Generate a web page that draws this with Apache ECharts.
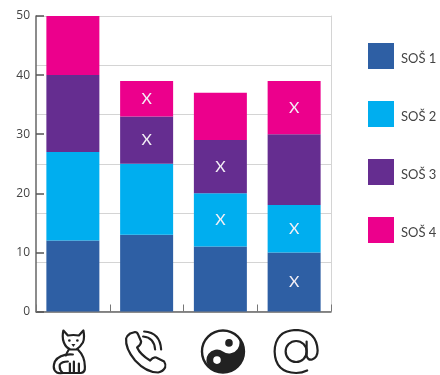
<!DOCTYPE html>
<html>
<head>
<meta charset="utf-8">
<style>html,body{margin:0;padding:0;background:#fff}#c{width:440px;height:375px}</style>
<script src="https://cdn.jsdelivr.net/npm/echarts@6/dist/echarts.min.js"></script>
</head>
<body>
<div id="c"></div>
<script>
var categories = ['cat', 'phone', 'yinyang', 'at'];
var seriesNames = ['SOŠ 1', 'SOŠ 2', 'SOŠ 3', 'SOŠ 4'];
var sos1 = [12, 13, 11, 10];
var sos2 = [15, 12, 9, 8];
var sos3 = [13, 8, 9, 12];
var sos4 = [10, 6, 8, 9];
var marks1 = [0, 0, 0, 1];
var marks2 = [0, 0, 1, 1];
var marks3 = [0, 1, 1, 0];
var marks4 = [0, 1, 0, 1];
var colors = ['#2e5fa4', '#00aeef', '#652d90', '#ec008c'];

function svg(inner, dx) {
  return 'data:image/svg+xml;utf8,' + encodeURIComponent(
    '<svg xmlns="http://www.w3.org/2000/svg" width="54" height="46" viewBox="-4 0 54 46"><g transform="translate(' + dx + ' 0)">' + inner + '</g></svg>');
}
var stroke = 'fill="none" stroke="#222" stroke-width="2.2" stroke-linecap="round" stroke-linejoin="round"';
var icons = {
  cat: svg('<g ' + stroke + '>' +
    '<path d="M13.5 2 L18 7 Q23.5 6 29 7 L33.5 2 Q35 10 33 14 Q30 19 26.5 21 L20.5 21 Q16 19 14 14 Q12 9 13.5 2Z"/>' +
    '<path d="M19 21 Q17 24 16 27 M28 21 Q35 28 35 38 Q35.5 44 31 44.5 L12 44.5"/>' +
    '<path d="M23 26 Q10 25 5 33 Q2 41 7 44 Q10 45.5 13 44.5 Q9 41 10 36 Q12 33 18 33"/>' +
    '<path d="M20 35 V44 M24 33 V44 M29 35 V44"/></g>' +
    '<circle cx="19.5" cy="12" r="1.3" fill="#222"/><circle cx="27.5" cy="12" r="1.3" fill="#222"/>' +
    '<path d="M21.5 15.5 L25.5 15.5 L23.5 18.5Z" fill="#222"/>', 0),
  phone: svg('<g ' + stroke + '>' +
    '<path d="M8 5 L13 3.5 Q15 3.5 16 6 L19 13 Q19 16 15 19 Q18 26 28 32 Q31 28 34 29 L42 33 Q44 36 43 39 Q41 43 36 44 Q24 44 13 32 Q3 20 4 10 Q5 7 8 5Z"/>' +
    '<path d="M21 8 Q32 9 33 21"/><path d="M22 3 Q38 4 39 21"/></g>', -1.5),
  yinyang: svg('<circle cx="23" cy="23" r="21" fill="#fff" stroke="#222" stroke-width="2.4"/>' +
    '<path d="M23 2 A21 21 0 0 1 23 44 A10.5 10.5 0 0 1 23 23 A10.5 10.5 0 0 0 23 2Z" fill="#222" transform="rotate(35 23 23)"/>' +
    '<circle cx="29" cy="14.4" r="3.8" fill="#222"/><circle cx="17" cy="31.6" r="3.8" fill="#fff"/>', 2.6),
  at: svg('<g fill="none" stroke="#222" stroke-width="2.2" stroke-linecap="round">' +
    '<circle cx="23" cy="23" r="10.5"/>' +
    '<path d="M33.5 13 V27 Q34.5 32 39 31 Q44.5 29 44.5 22 Q43.5 2 23 1.5 Q2 2 1.5 23 Q2 44 23 44.5 Q29 44.5 34 42"/></g>', 2)
};

var rich = {};
categories.forEach(function (c) {
  rich[c] = { width: 54, height: 46, backgroundColor: { image: icons[c] } };
});

function build(values, marks) {
  return values.map(function (v, i) {
    return { value: v, label: { show: !!marks[i] } };
  });
}
var allValues = [sos1, sos2, sos3, sos4];
var allMarks = [marks1, marks2, marks3, marks4];

var chart = echarts.init(document.getElementById('c'), null, { renderer: 'canvas' });
chart.setOption({
  animation: false,
  color: colors,
  textStyle: { fontFamily: 'Open Sans' },
  grid: { left: 36, right: 109, top: 16, bottom: 63.5 },
  legend: {
    orient: 'vertical', left: 368, top: 43, padding: 0,
    itemWidth: 26, itemHeight: 26, itemGap: 32,
    icon: 'rect',
    data: seriesNames,
    selectedMode: false,
    formatter: '{t|{name}}',
    textStyle: {
      rich: { t: { fontFamily: 'Lato', fontSize: 13, color: '#444', padding: [5, 0, 0, 2] } }
    }
  },
  xAxis: {
    type: 'category',
    data: categories,
    axisLine: { lineStyle: { color: '#666', width: 1.5 } },
    axisTick: { show: true, inside: true, length: 7, alignWithLabel: false, lineStyle: { color: '#777', width: 1 } },
    axisLabel: {
      margin: 17, interval: 0,
      formatter: function (v) { return '{' + v + '|}'; },
      rich: rich
    }
  },
  yAxis: [{
    type: 'value', min: 0, max: 50, interval: 10,
    axisLine: { show: true, lineStyle: { color: '#666', width: 1.5 } },
    axisTick: { show: true, inside: true, length: 8, lineStyle: { color: '#555', width: 1.5 } },
    axisLabel: { color: '#444', fontSize: 12, margin: 6, fontFamily: 'Open Sans' },
    splitLine: { show: false }
  }, {
    type: 'value', min: 0, max: 6, interval: 1, position: 'right',
    axisLine: { show: true, lineStyle: { color: '#d4d4d4', width: 1 } },
    axisTick: { show: false },
    axisLabel: { show: false },
    splitLine: { show: true, lineStyle: { color: '#d4d4d4', width: 1 } }
  }],
  series: seriesNames.map(function (name, k) {
    return {
      name: name,
      type: 'bar',
      stack: 'total',
      barWidth: 53,
      yAxisIndex: 0,
      data: build(allValues[k], allMarks[k]),
      label: {
        position: 'inside',
        formatter: 'X',
        color: '#f4f0f6',
        fontFamily: 'Lato',
        fontSize: 16
      }
    };
  })
});
</script>
</body>
</html>
